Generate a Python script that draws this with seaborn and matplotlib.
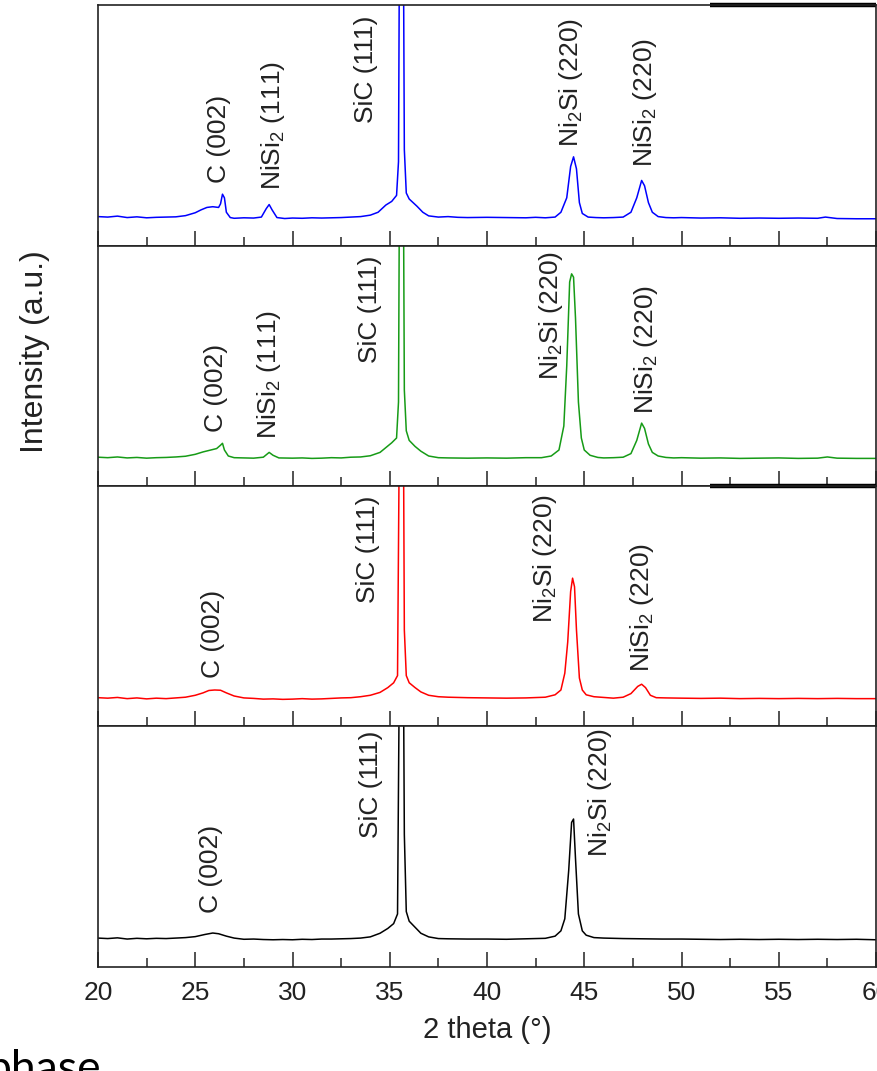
#! /usr/bin/python3
'''
Stacked XRD patterns (4 samples) with phase labels.
'''

import numpy as np
import pandas as pd
import seaborn as sns
import matplotlib.pyplot as plt
from matplotlib.ticker import MultipleLocator

# Patterns, top to bottom (2 theta in degrees, normalised intensity per panel)
blue_tt = [20.0, 20.5, 21.0, 21.5, 22.0, 22.5, 23.0, 23.5, 24.0, 24.5, 25.0, 25.3, 25.6, 25.9,
           26.2, 26.3, 26.4, 26.5, 26.6, 26.8, 27.0, 27.5, 28.0, 28.4, 28.65, 28.8, 28.95, 29.2,
           29.6, 30.0, 30.5, 31.0, 31.5, 32.0, 32.5, 33.0, 33.5, 34.0, 34.4, 34.8, 35.1, 35.35,
           35.45, 35.5, 35.7, 35.75, 35.85, 36.0, 36.2, 36.4, 36.7, 37.0, 37.5, 38.0, 38.5, 39.0,
           40.0, 41.0, 42.0, 42.5, 43.0, 43.5, 43.8, 44.1, 44.3, 44.45, 44.6, 44.75, 44.9, 45.2,
           45.6, 46.0, 46.5, 47.0, 47.4, 47.7, 47.95, 48.1, 48.3, 48.5, 48.8, 49.2, 49.6, 50.0,
           51.0, 52.0, 53.0, 54.0, 55.0, 56.0, 57.0, 57.4, 58.0, 59.0, 60.0]
blue_int = [.122, .120, .124, .118, .121, .117, .119, .120, .121, .126, .138, .150, .160, .163,
            .160, .175, .215, .200, .140, .118, .115, .117, .116, .120, .155, .172, .150, .118,
            .114, .116, .115, .117, .116, .117, .118, .120, .122, .128, .140, .170, .185, .210,
            .350, 1.30, 1.30, .400, .220, .195, .180, .165, .140, .125, .120, .122, .119, .118,
            .119, .118, .117, .119, .117, .120, .140, .200, .330, .370, .320, .180, .135, .120,
            .118, .117, .118, .120, .140, .200, .272, .250, .180, .140, .122, .118, .117, .118,
            .116, .117, .115, .116, .115, .116, .115, .120, .114, .113, .113]

green_tt = [20.0, 20.5, 21.0, 21.5, 22.0, 22.5, 23.0, 23.5, 24.0, 24.5, 25.0, 25.4, 25.8, 26.1,
            26.3, 26.4, 26.5, 26.7, 27.0, 27.5, 28.0, 28.5, 28.8, 29.0, 29.3, 30.0, 30.5, 31.0,
            31.5, 32.0, 32.5, 33.0, 33.5, 34.0, 34.5, 34.8, 35.1, 35.35, 35.45, 35.5, 35.7, 35.75,
            35.85, 36.0, 36.3, 36.6, 37.0, 37.5, 38.0, 39.0, 40.0, 41.0, 42.0, 42.8, 43.3, 43.7,
            43.95, 44.1, 44.25, 44.35, 44.45, 44.55, 44.7, 44.85, 45.0, 45.3, 45.7, 46.0, 46.5,
            47.0, 47.4, 47.7, 47.95, 48.1, 48.3, 48.5, 48.8, 49.2, 49.6, 50.0, 51.0, 52.0, 53.0,
            54.0, 55.0, 56.0, 57.0, 57.5, 58.0, 59.0, 60.0]
green_int = [.120, .118, .121, .117, .119, .116, .118, .119, .121, .124, .132, .142, .150, .156,
             .170, .178, .150, .125, .118, .117, .116, .120, .140, .128, .117, .116, .117, .115,
             .116, .118, .117, .120, .121, .126, .140, .160, .180, .200, .350, 1.30, 1.30, .400,
             .230, .190, .165, .145, .125, .118, .117, .116, .117, .116, .118, .118, .125, .150,
             .250, .500, .850, .884, .870, .700, .350, .200, .150, .128, .119, .117, .118,
             .120, .135, .190, .262, .240, .175, .140, .125, .119, .117, .118, .116, .117, .115,
             .116, .117, .115, .116, .121, .116, .115, .115]

red_tt = [20.0, 20.5, 21.0, 21.5, 22.0, 22.5, 23.0, 23.5, 24.0, 24.5, 25.0, 25.4, 25.7, 26.0,
          26.3, 26.6, 27.0, 27.5, 28.0, 28.5, 29.0, 29.5, 30.0, 30.5, 31.0, 31.5, 32.0, 32.5,
          33.0, 33.5, 34.0, 34.5, 34.9, 35.2, 35.4, 35.5, 35.7, 35.75, 35.85, 36.0, 36.3, 36.6,
          37.0, 37.5, 38.0, 39.0, 40.0, 41.0, 42.0, 43.0, 43.5, 43.8, 44.0, 44.15, 44.3, 44.4,
          44.5, 44.6, 44.75, 44.9, 45.1, 45.5, 46.0, 46.5, 47.0, 47.4, 47.75, 47.95, 48.15, 48.4,
          48.7, 49.2, 50.0, 51.0, 52.0, 53.0, 54.0, 55.0, 56.0, 57.0, 58.0, 59.0, 60.0]
red_int = [.118, .116, .119, .114, .117, .113, .116, .114, .117, .120, .128, .138, .148, .150,
           .149, .138, .125, .117, .115, .112, .113, .111, .112, .114, .112, .113, .115, .117,
           .118, .122, .128, .140, .160, .180, .210, 1.30, 1.30, .400, .210, .180, .160, .142,
           .128, .122, .120, .118, .117, .116, .117, .120, .130, .150, .220, .350, .560, .616,
           .580, .400, .200, .150, .130, .122, .119, .116, .120, .135, .165, .174, .160, .128,
           .118, .117, .116, .115, .116, .114, .115, .114, .115, .114, .115, .114, .114]

black_tt = [20.0, 20.5, 21.0, 21.5, 22.0, 22.5, 23.0, 23.5, 24.0, 24.5, 25.0, 25.5, 25.9, 26.2,
            26.6, 27.0, 27.5, 28.0, 28.5, 29.0, 29.5, 30.0, 30.5, 31.0, 31.5, 32.0, 32.5, 33.0,
            33.5, 34.0, 34.5, 34.9, 35.2, 35.4, 35.5, 35.7, 35.75, 35.85, 36.0, 36.3, 36.6, 37.0,
            37.5, 38.0, 39.0, 40.0, 41.0, 42.0, 43.0, 43.5, 43.8, 44.0, 44.2, 44.35, 44.45, 44.55,
            44.7, 44.9, 45.1, 45.5, 46.0, 47.0, 48.0, 49.0, 50.0, 51.0, 52.0, 53.0, 54.0, 55.0,
            56.0, 57.0, 58.0, 59.0, 60.0]
black_int = [.120, .118, .121, .116, .119, .117, .119, .118, .120, .122, .126, .135, .141, .138,
             .128, .120, .115, .116, .114, .113, .114, .113, .115, .114, .116, .116, .117, .118,
             .120, .125, .140, .160, .180, .220, 1.30, 1.30, .550, .230, .190, .165, .140, .125,
             .118, .117, .116, .116, .115, .117, .119, .128, .150, .200, .400, .600, .614, .450,
             .220, .150, .132, .122, .120, .118, .117, .116, .116, .115, .114, .115, .114, .115,
             .114, .115, .114, .115, .113]

# Peak labels per panel: text, 2 theta of the label centre, bottom of the label
blue_lab = [('C (002)', 26.2, 0.26), ('NiSi$_2$ (111)', 29.0, 0.232), ('SiC (111)', 33.8, 0.51),
            ('Ni$_2$Si (220)', 44.3, 0.41), ('NiSi$_2$ (220)', 48.1, 0.328)]
green_lab = [('C (002)', 26.05, 0.223), ('NiSi$_2$ (111)', 28.8, 0.194), ('SiC (111)', 34.0, 0.512),
             ('Ni$_2$Si (220)', 43.3, 0.442), ('NiSi$_2$ (220)', 48.2, 0.298)]
red_lab = [('C (002)', 25.9, 0.198), ('SiC (111)', 33.9, 0.512),
           ('Ni$_2$Si (220)', 43.0, 0.43), ('NiSi$_2$ (220)', 47.95, 0.223)]
black_lab = [('C (002)', 25.8, 0.224), ('SiC (111)', 34.05, 0.535), ('Ni$_2$Si (220)', 45.8, 0.456)]

panels = [(blue_tt, blue_int, '#0000ff', blue_lab),
          (green_tt, green_int, '#169b16', green_lab),
          (red_tt, red_int, '#ff0000', red_lab),
          (black_tt, black_int, '#000000', black_lab)]

sns.set_theme(style='ticks')
plt.rcParams['font.family'] = ['Liberation Sans', 'DejaVu Sans']
plt.rcParams['mathtext.default'] = 'regular'

W, H = 878, 1071
fig = plt.figure(figsize=(W / 100, H / 100), dpi=100)

left, right = 98, 876
edges = [5, 246, 486, 726, 967]   # panel borders in pixels from the top

axes = []
for i, (tt, inten, col, labels) in enumerate(panels):
    top, bot = edges[i], edges[i + 1]
    ax = fig.add_axes([left / W, 1 - bot / H, (right - left) / W, (bot - top) / H])
    df = pd.DataFrame({'two_theta': tt, 'intensity': inten})
    sns.lineplot(data=df, x='two_theta', y='intensity', ax=ax, color=col,
                 lw=1.1, estimator=None, sort=False)
    for txt, x, y in labels:
        ax.text(x, y, txt, rotation=90, ha='center', va='bottom', fontsize=19, color='#222222')
    ax.set_xlim(20, 60)
    ax.set_ylim(0, 1)
    ax.set_yticks([])
    ax.set_ylabel('')
    ax.set_xlabel('')
    ax.xaxis.set_major_locator(MultipleLocator(5))
    ax.xaxis.set_minor_locator(MultipleLocator(2.5))
    ax.tick_params(axis='x', which='major', direction='in', length=10.5, width=1.1,
                   labelsize=19, pad=10, colors='#222222')
    ax.tick_params(axis='x', which='minor', direction='in', length=6.5, width=1.1)
    for s in ax.spines.values():
        s.set_visible(True)
        s.set_linewidth(1.2)
        s.set_color('#222222')
    if i < 3:
        ax.tick_params(axis='x', labelbottom=False)
    axes.append(ax)

# heavier border segments seen on the original scan
for ax in (axes[0], axes[2]):
    ax.plot([0.786, 1.0], [1.0, 1.0], transform=ax.transAxes, color='black',
            lw=3.2, clip_on=False, solid_capstyle='butt')

axes[-1].set_xlabel('2 theta (°)', fontsize=21, labelpad=8, color='#222222')
fig.text(35 / W, 1 - 352 / H, 'Intensity (a.u.)', rotation=90, ha='center', va='center',
         fontsize=23, color='#222222')
fig.text(-13 / W, 1 - 1082 / H, 'phase', ha='left', va='baseline', fontsize=32,
         family=['Lato', 'DejaVu Sans'], color='black')

fig.savefig('out.png', dpi=100)
